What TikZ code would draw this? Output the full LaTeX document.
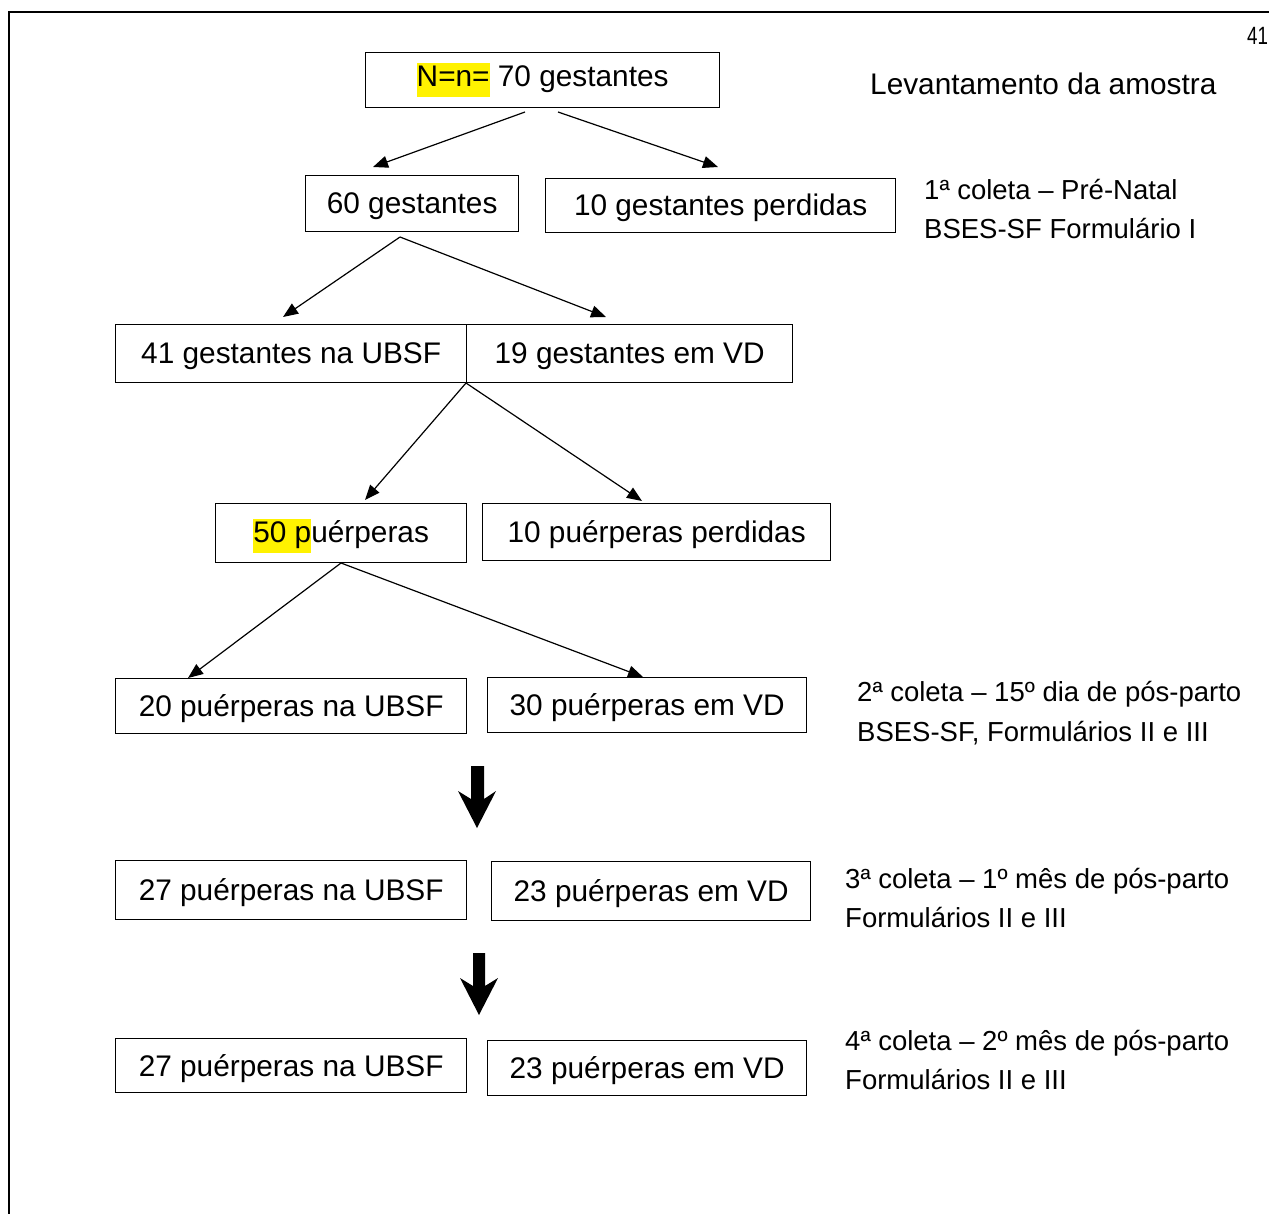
\documentclass[tikz,border=0pt]{standalone}
\usepackage{fontspec}
\setmainfont{Liberation Sans}
\usetikzlibrary{arrows.meta}
\tikzset{
  box/.style={draw, line width=1.3pt, inner sep=0pt, anchor=north west,
    font=\fontsize{29.8}{34}\selectfont},
  note/.style={anchor=base west, inner sep=0pt, font=\fontsize{27.5}{32}\selectfont},
  conn/.style={line width=1.2pt, -{Triangle[length=15pt,width=12pt]}},
  blockarrow/.style={fill=black, draw=none},
}
\newcommand{\hl}[1]{{\setlength{\fboxsep}{0pt}\colorbox{yellow}{\strut #1}}}
\newcommand{\bt}[1]{\raisebox{-2.5pt}[\height][\depth]{#1}}
\begin{document}
\begin{tikzpicture}[x=1pt,y=-1pt]
\useasboundingbox (0,0) rectangle (1269,1213);
\begin{scope}
\clip (0,0) rectangle (1269,1213);
% page frame
\draw[line width=2pt] (9,1220) -- (9,12) -- (1280,12);
\end{scope}
\node[anchor=base west, inner sep=0pt, font=\fontsize{25}{30}\selectfont] (pg) at (1247,44) {\scalebox{0.75}[1]{41}};

% boxes
\node[box, minimum width=354pt, minimum height=55pt] (b0) at (365,52) {\raisebox{3pt}{\hl{N=n=} 70 gestantes}};
\node[box, minimum width=213pt, minimum height=56pt] (b1) at (305,175) {\bt{60 gestantes}};
\node[box, minimum width=350pt, minimum height=54pt] (b2) at (545,178) {\bt{10 gestantes perdidas}};
\node[box, minimum width=351pt, minimum height=58pt] (b3) at (115,324) {\bt{41 gestantes na UBSF}};
\node[box, minimum width=326pt, minimum height=58pt] (b4) at (466,324) {\bt{19 gestantes em VD}};
\node[box, minimum width=251pt, minimum height=59pt] (b5) at (215,503) {\bt{\hl{50 p}uérperas}};
\node[box, minimum width=348pt, minimum height=57pt] (b6) at (482,503) {\bt{10 puérperas perdidas}};
\node[box, minimum width=351pt, minimum height=55pt] (b7) at (115,678) {\bt{20 puérperas na UBSF}};
\node[box, minimum width=319pt, minimum height=55pt] (b8) at (487,677) {\bt{30 puérperas em VD}};
\node[box, minimum width=351pt, minimum height=59pt] (b9) at (115,860) {\bt{27 puérperas na UBSF}};
\node[box, minimum width=319pt, minimum height=59pt] (b10) at (491,861) {\bt{23 puérperas em VD}};
\node[box, minimum width=351pt, minimum height=54pt] (b11) at (115,1038) {\bt{27 puérperas na UBSF}};
\node[box, minimum width=319pt, minimum height=55pt] (b12) at (487,1040) {\bt{23 puérperas em VD}};

% notes
\node[anchor=base west, inner sep=0pt, font=\fontsize{29.8}{34}\selectfont] (n0) at (870,94.3) {Levantamento da amostra};
\node[note] (n1a) at (924,199.3) {1ª coleta – Pré-Natal};
\node[note] (n1b) at (924,238) {BSES-SF Formulário I};
\node[note] (n2a) at (857,701) {2ª coleta – 15º dia de pós-parto};
\node[note] (n2b) at (857,741) {BSES-SF, Formulários II e III};
\node[note] (n3a) at (845,888.5) {3ª coleta – 1º mês de pós-parto};
\node[note] (n3b) at (845,927.5) {Formulários II e III};
\node[note] (n4a) at (845,1050.5) {4ª coleta – 2º mês de pós-parto};
\node[note] (n4b) at (845,1089.5) {Formulários II e III};

% connector coordinates
\coordinate (s0a) at (525,112);
\coordinate (s0b) at (558,112);
\coordinate (e0a) at (373,167);
\coordinate (e0b) at (718,167);
\coordinate (s1) at (400,237);
\coordinate (e1a) at (283,317);
\coordinate (e1b) at (606,317);
\coordinate (s2) at (466,383);
\coordinate (e2a) at (365,500);
\coordinate (e2b) at (642,501);
\coordinate (s3) at (341,563);
\coordinate (e3a) at (188,678);
\coordinate (e3b) at (643,677);

\draw[conn] (s0a) -- (e0a);
\draw[conn] (s0b) -- (e0b);
\draw[conn] (s1) -- (e1a);
\draw[conn] (s1) -- (e1b);
\draw[conn] (s2) -- (e2a);
\draw[conn] (s2) -- (e2b);
\draw[conn] (s3) -- (e3a);
\draw[conn] (s3) -- (e3b);

% block arrows
\fill[blockarrow] (471,766) -- (484,766) -- (484,799) -- (496,791) -- (477,828) -- (458,791) -- (471,799) -- cycle;
\fill[blockarrow] (473,953) -- (485,953) -- (485,986) -- (498,978) -- (479,1015) -- (460,978) -- (473,986) -- cycle;
\end{tikzpicture}
\end{document}
